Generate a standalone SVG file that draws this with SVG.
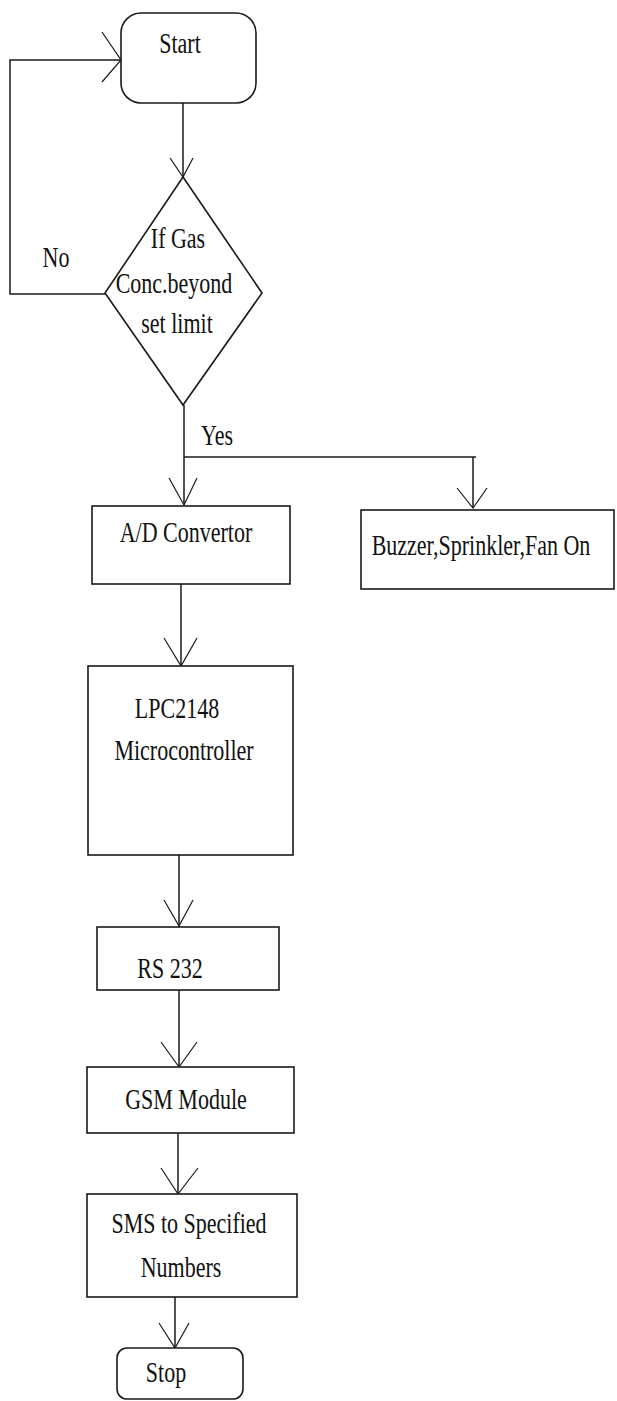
<svg xmlns="http://www.w3.org/2000/svg" width="617" height="1401" viewBox="0 0 617 1401">
  <style>
    .box { fill: #fff; stroke: #1a1a1a; stroke-width: 1.6; }
    .line { fill: none; stroke: #1a1a1a; stroke-width: 1.5; }
    .head { fill: none; stroke: #1a1a1a; stroke-width: 1.2; }
    .t { font-family: "Liberation Serif", "Times New Roman", serif; font-size: 22px; fill: #111; text-anchor: middle; }
  </style>
  <rect width="617" height="1401" fill="#fff"/>

  <!-- connectors -->
  <g id="connectors">
    <!-- start to decision -->
    <path class="line" d="M183 103 V177"/>
    <path class="head" d="M170 158 L183 177 L193 158"/>
    <!-- "No" loop back to start -->
    <path class="line" d="M105 294 H10 V60 H121"/>
    <path class="head" d="M102 32 L121 60 L102 82"/>
    <!-- "Yes" branch -->
    <path class="line" d="M184 405 V505"/>
    <path class="line" d="M184 457 H476"/>
    <path class="line" d="M473 457 V508"/>
    <path class="head" d="M169 478 L184 505 L197 478"/>
    <path class="head" d="M457 488 L473 508 L487 488"/>
    <!-- A/D to LPC2148 -->
    <path class="line" d="M181 584 V666"/>
    <path class="head" d="M164 638 L181 666 L197 638"/>
    <!-- LPC2148 to RS 232 -->
    <path class="line" d="M179 855 V927"/>
    <path class="head" d="M164 900 L179 926 L193 900"/>
    <!-- RS 232 to GSM -->
    <path class="line" d="M179 990 V1067"/>
    <path class="head" d="M161 1042 L179 1067 L197 1042"/>
    <!-- GSM to SMS -->
    <path class="line" d="M178 1133 V1194"/>
    <path class="head" d="M161 1168 L178 1194 L198 1168"/>
    <!-- SMS to Stop -->
    <path class="line" d="M175 1297 V1348"/>
    <path class="head" d="M159 1323 L175 1348 L189 1323"/>
  </g>

  <g id="label-no">
    <text class="t" transform="translate(56 267) scale(1 1.36)">No</text>
  </g>
  <g id="label-yes">
    <text class="t" transform="translate(217 445) scale(1 1.36)">Yes</text>
  </g>

  <g id="start">
    <rect class="box" x="121" y="13" width="135" height="90" rx="20" ry="20"/>
    <text class="t" transform="translate(180 53) scale(1 1.36)">Start</text>
  </g>

  <g id="decision">
    <polygon class="box" points="183,177 262,293 183,405 105,293"/>
    <text class="t" transform="translate(178 248) scale(1 1.36)">If Gas</text>
    <text class="t" transform="translate(174 293) scale(1 1.36)">Conc.beyond</text>
    <text class="t" transform="translate(177 333) scale(1 1.36)">set limit</text>
  </g>

  <g id="adc">
    <rect class="box" x="92" y="506" width="198" height="78"/>
    <text class="t" transform="translate(186 542) scale(1 1.36)">A/D Convertor</text>
  </g>

  <g id="alarm">
    <rect class="box" x="361" y="510" width="253" height="79"/>
    <text class="t" transform="translate(481 555) scale(1 1.36)">Buzzer,Sprinkler,Fan On</text>
  </g>

  <g id="mcu">
    <rect class="box" x="88" y="666" width="205" height="189"/>
    <text class="t" transform="translate(177 718) scale(1 1.36)">LPC2148</text>
    <text class="t" transform="translate(184 760) scale(1 1.36)">Microcontroller</text>
  </g>

  <g id="rs232">
    <rect class="box" x="97" y="927" width="182" height="63"/>
    <text class="t" transform="translate(170 978) scale(1 1.36)">RS 232</text>
  </g>

  <g id="gsm">
    <rect class="box" x="87" y="1067" width="207" height="66"/>
    <text class="t" transform="translate(186 1109) scale(1 1.36)">GSM Module</text>
  </g>

  <g id="sms">
    <rect class="box" x="87" y="1194" width="210" height="103"/>
    <text class="t" transform="translate(189 1233) scale(1 1.36)">SMS to Specified</text>
    <text class="t" transform="translate(181 1277) scale(1 1.36)">Numbers</text>
  </g>

  <g id="stop">
    <rect class="box" x="117" y="1348" width="126" height="51" rx="10" ry="10"/>
    <text class="t" transform="translate(166 1382) scale(1 1.36)">Stop</text>
  </g>
</svg>
